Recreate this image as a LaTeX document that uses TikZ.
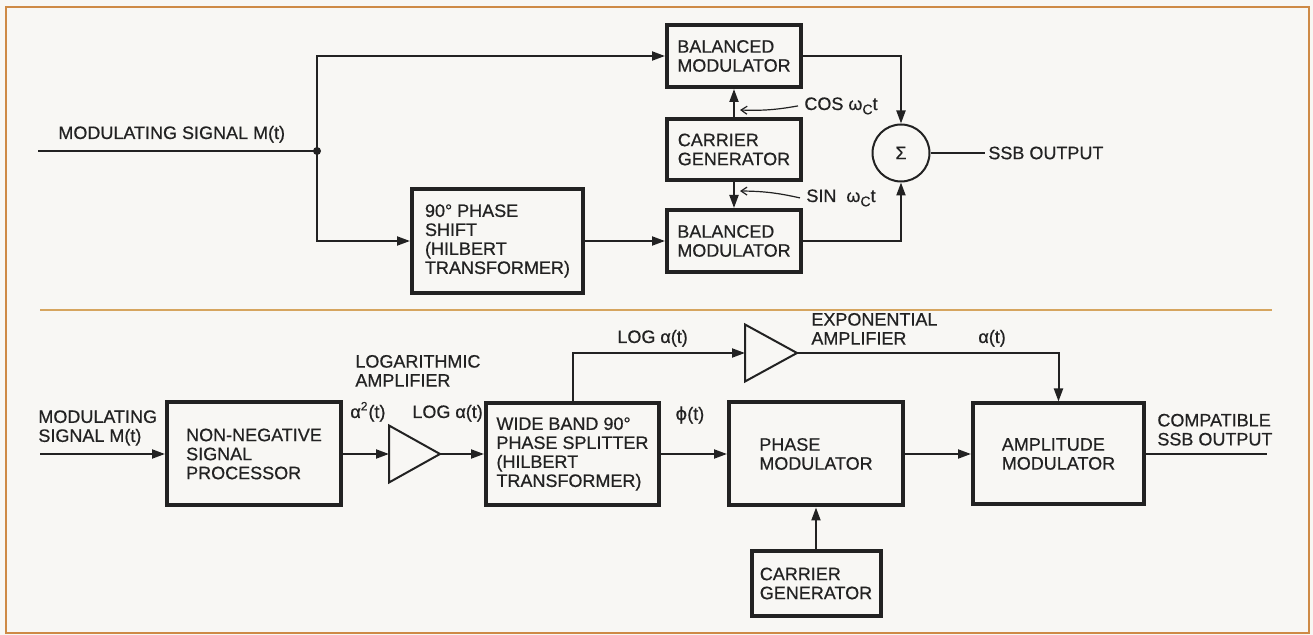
\documentclass[tikz,border=0pt]{standalone}
\usepackage{fontspec}
\setmainfont{Liberation Sans}[FakeBold=0.6]
\newfontfamily\dejavu{DejaVu Sans}[FakeBold=0.6]
\usetikzlibrary{arrows.meta}
\definecolor{ink}{RGB}{34,34,34}
\definecolor{frameor}{RGB}{206,138,70}
\definecolor{divor}{RGB}{214,165,95}
\definecolor{paper}{RGB}{248,247,244}
\newcommand{\wc}{ω\raisebox{-0.45ex}{\fontsize{7}{7}\selectfont C}t}
\begin{document}
\begin{tikzpicture}[x=0.5pt,y=-0.5pt,
  every node/.style={font=\fontsize{9}{9.5}\selectfont, text=ink},
  sz/.style 2 args={minimum width=#1*0.5pt, minimum height=#2*0.5pt},
  blk/.style={draw=ink, line width=2pt, inner sep=0pt, align=left},
  conn/.style={draw=ink, line width=1pt},
  arr/.style={conn, -{Triangle[length=6.5pt,width=4.5pt]}},
  ptr/.style={draw=ink, line width=0.6pt, -{Straight Barb[length=3pt,width=4pt]}},
  lbl/.style={inner sep=0pt, align=left},
  amp/.style={draw=ink, line width=1pt, line join=miter}
]
\useasboundingbox (0,0) rectangle (1313,635);
\fill[paper] (0,0) rectangle (1313,635);
\draw[frameor, line width=1.3pt] (6,7) rectangle (1309,633);
\draw[divor, line width=0.8pt] (40,310) -- (1272,310);

% ---------- top diagram ----------
\node[blk, sz={134}{62}] (bm1) at (734,56) {BALANCED\\MODULATOR};
\node[blk, sz={134}{61}] (cg1) at (734,149.5) {CARRIER\\GENERATOR};
\node[blk, sz={134}{62}] (bm2) at (734,241) {BALANCED\\MODULATOR};
\node[blk, sz={171}{104}] (ps) at (497.5,241) {90° PHASE\\SHIFT\\(HILBERT\\TRANSFORMER)};
\node[draw=ink, line width=1pt, circle, inner sep=0pt, minimum size=28.5pt] (sum) at (901,153) {Σ};

\coordinate (in1) at (38,151);
\coordinate (j) at (317,151);
\node[lbl, anchor=base west] (l1) at (58,139) {MODULATING SIGNAL M(t)};
\draw[conn] (in1) -- (j);
\fill[ink] (j) circle (2pt);
\draw[arr] (j) |- (bm1.west);
\draw[arr] (j) |- (ps.west);
\draw[arr] (ps.east) -- (bm2.west);
\draw[arr] (cg1.north) -- (bm1.south);
\draw[arr] (cg1.south) -- (bm2.north);
\draw[arr] (bm1.east) -| (sum.north);
\draw[arr] (bm2.east) -| (sum.south);

\node[lbl, anchor=base west] (cos) at (804,110) {COS \wc};
\node[lbl, anchor=base west] (sin) at (806,202) {SIN\ \ \wc};
\coordinate (cosp) at (740,110);
\coordinate (sinp) at (740,191);
\draw[ptr] ([xshift=-3pt]cos.west) to[bend left=6] (cosp);
\draw[ptr] ([xshift=-3pt]sin.west) to[bend right=6] (sinp);

\node[anchor=west, inner sep=1.5pt] (ssb) at (985,153) {SSB OUTPUT};
\draw[conn] (sum.east) -- (sum.east -| ssb.west);

% ---------- bottom diagram ----------
\node[blk, sz={174}{103}] (nn) at (254,454) {NON-NEGATIVE\\SIGNAL\\PROCESSOR};
\node[blk, sz={173}{102}] (wb) at (572.5,454) {WIDE BAND 90°\\PHASE SPLITTER\\(HILBERT\\TRANSFORMER)};
\node[blk, sz={174}{103}] (pm) at (816,454) {PHASE\\MODULATOR};
\node[blk, sz={171}{101}] (am) at (1058.5,454) {AMPLITUDE\\MODULATOR};
\node[blk, sz={129}{65}] (cg2) at (816,583.5) {CARRIER\\GENERATOR};

\coordinate (in2) at (40,454);
\coordinate (out2) at (1267,454);
\node[lbl, anchor=south west] (l2) at (38,446) {MODULATING\\SIGNAL M(t)};
\draw[arr] (in2) -- (nn.west);

% logarithmic amplifier
\coordinate (a1in) at (389,454);
\coordinate (a1out) at (440,454);
\draw[amp] (a1in) -- ++(0,-28.5) -- (a1out) -- ++(-51,28.5) -- cycle;
\node[lbl, anchor=south west] (lgl) at (355,387) {LOGARITHMIC\\AMPLIFIER};
\node[lbl, anchor=base west] (asq) at (350,418) {α\textsuperscript{2}(t)};
\node[lbl, anchor=base west] (lga) at (412,418) {LOG α(t)};
\draw[arr] (nn.east) -- (a1in);
\draw[arr] (a1out) -- (wb.west);

% exponential amplifier
\coordinate (a2in) at (745,353);
\coordinate (a2out) at (797,353);
\draw[amp] (a2in) -- ++(0,-28.5) -- (a2out) -- ++(-52,28.5) -- cycle;
\node[lbl, anchor=south west] (exl) at (811,345) {EXPONENTIAL\\AMPLIFIER};
\node[lbl, anchor=base west] (lgb) at (617,343) {LOG α(t)};
\node[lbl, anchor=base west] (al) at (978,343) {α(t)};
\draw[arr] (wb.north) |- (a2in);
\draw[arr] (a2out) -| (am.north);

\node[lbl, anchor=base west] (phi) at (675,420) {{\dejavu ϕ}(t)};
\draw[arr] (wb.east) -- (pm.west);
\draw[arr] (pm.east) -- (am.west);
\draw[arr] (cg2.north) -- (pm.south);

\node[lbl, anchor=south west] (cmp) at (1157,446) {COMPATIBLE\\SSB OUTPUT};
\draw[conn] (am.east) -- (out2);
\end{tikzpicture}
\end{document}
